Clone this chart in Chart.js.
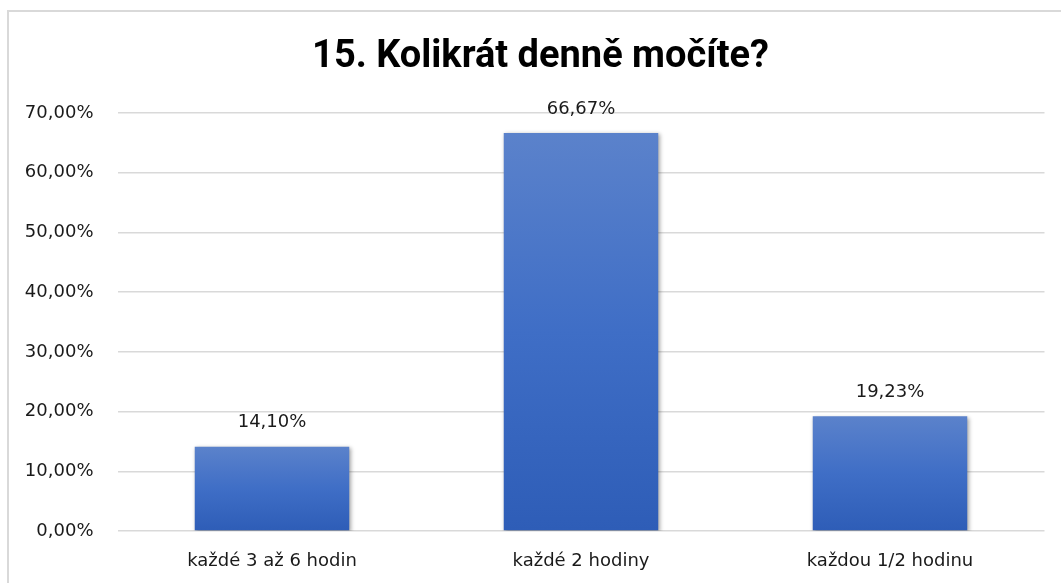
<!DOCTYPE html>
<html>
<head>
<meta charset="utf-8">
<script src="https://cdn.jsdelivr.net/npm/chart.js@4.4.1/dist/chart.umd.min.js"></script>
<style>
  html, body { margin: 0; padding: 0; background: #fff; overflow: hidden; }
  #wrap { position: relative; width: 1061px; height: 583px; }
  #frame {
    position: absolute; left: 7px; top: 10px; width: 1070px; height: 600px;
    border: 2px solid #d9d9d9; box-sizing: border-box;
  }
  canvas { position: absolute; left: 0; top: 0; }
</style>
</head>
<body>
<div id="wrap">
  <div id="frame"></div>
  <canvas id="chart" width="1061" height="583"></canvas>
</div>
<script>
// Chart data
var categories = ['každé 3 až 6 hodin', 'každé 2 hodiny', 'každou 1/2 hodinu'];
var values = [14.10, 66.67, 19.23];
var yTicks = [0, 10, 20, 30, 40, 50, 60, 70];
var chartTitle = '15. Kolikrát denně močíte?';

var FONT = '"DejaVu Sans", sans-serif';

function pct(v) {
    return v.toFixed(2).replace('.', ',') + '%';
}

// Per-bar vertical gradient, like the Excel fill.
function barFill(ctx) {
    var chart = ctx.chart;
    var area = chart.chartArea;
    if (!area || ctx.dataIndex === undefined) {
        return '#3f6fc4';
    }
    var y = chart.scales.y;
    var top = y.getPixelForValue(values[ctx.dataIndex]);
    var base = y.getPixelForValue(0);
    var g = chart.ctx.createLinearGradient(0, top, 0, base);
    g.addColorStop(0, '#5b82cb');
    g.addColorStop(0.5, '#3f6ec6');
    g.addColorStop(1, '#2e5db7');
    return g;
}

// Small shadow under the bars.
var barShadow = {
    id: 'barShadow',
    beforeDatasetDraw: function(chart) {
        var c = chart.ctx;
        c.save();
        c.shadowColor = 'rgba(0,0,0,0.35)';
        c.shadowBlur = 4;
        c.shadowOffsetX = 1.5;
        c.shadowOffsetY = 1.5;
    },
    afterDatasetDraw: function(chart) {
        chart.ctx.restore();
    }
};

// Value labels above bars.
var valueLabels = {
    id: 'valueLabels',
    afterDatasetsDraw: function(chart) {
        var c = chart.ctx;
        var meta = chart.getDatasetMeta(0);
        c.save();
        c.font = '18px ' + FONT;
        c.fillStyle = '#1a1a1a';
        c.textAlign = 'center';
        c.textBaseline = 'middle';
        meta.data.forEach(function(bar, i) {
            c.fillText(pct(values[i]), bar.x, bar.y - 24);
        });
        c.restore();
    }
};

// Title centred on the whole frame (the built-in one centres on the padded box).
var frameTitle = {
    id: 'frameTitle',
    afterDraw: function(chart) {
        var c = chart.ctx;
        c.save();
        c.font = 'bold 38px Roboto, "Open Sans", sans-serif';
        c.fillStyle = '#000';
        c.textAlign = 'center';
        c.textBaseline = 'middle';
        c.fillText(chartTitle, 540.5, 57);
        c.restore();
    }
};

new Chart(document.getElementById('chart'), {
    type: 'bar',
    data: {
        labels: categories,
        datasets: [{
            data: values,
            backgroundColor: barFill,
            borderWidth: 0,
            categoryPercentage: 1,
            barPercentage: 0.5
        }]
    },
    options: {
        responsive: false,
        animation: false,
        events: [],
        layout: { padding: { left: 0, right: 16.5, top: 113, bottom: 0 } },
        plugins: {
            legend: { display: false },
            tooltip: { enabled: false },
            title: { display: false }
        },
        scales: {
            x: {
                grid: { display: false, drawTicks: false },
                border: { display: false },
                ticks: {
                    color: '#1a1a1a',
                    font: { family: FONT, size: 18 },
                    padding: 20
                },
                afterFit: function(scale) { scale.height = 52; }
            },
            y: {
                min: 0,
                max: 70,
                afterBuildTicks: function(scale) {
                    scale.ticks = yTicks.map(function(v) { return { value: v }; });
                },
                grid: { color: '#d9d9d9', lineWidth: 1.5, drawTicks: false },
                border: { display: false },
                ticks: {
                    color: '#1a1a1a',
                    font: { family: FONT, size: 18 },
                    padding: 24,
                    callback: function(v) { return pct(v); }
                },
                afterFit: function(scale) { scale.width = 117.5; }
            }
        }
    },
    plugins: [barShadow, valueLabels, frameTitle]
});
</script>
</body>
</html>
